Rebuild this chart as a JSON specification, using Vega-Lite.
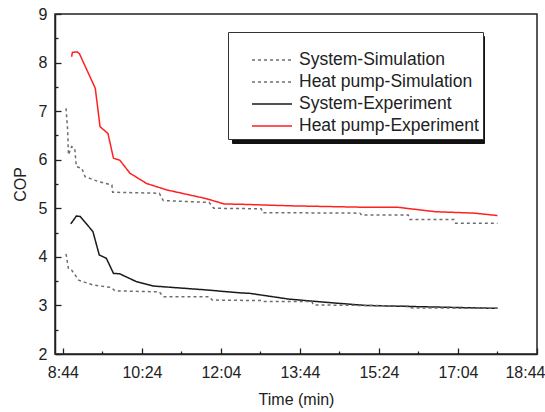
{
  "$schema": "https://vega.github.io/schema/vega-lite/v6.json",
  "width": 482,
  "height": 340,
  "autosize": {"type": "none"},
  "padding": {"left": 55, "top": 14, "right": 8, "bottom": 58},
  "background": "white",
  "config": {
    "view": {"stroke": "#222", "strokeWidth": 1.5},
    "font": "Liberation Sans",
    "axis": {
      "grid": false,
      "domainColor": "#222",
      "domainWidth": 1.5,
      "tickColor": "#222",
      "tickWidth": 1.3,
      "labelFont": "Liberation Sans",
      "labelFontSize": 16,
      "labelColor": "#222",
      "titleFont": "Liberation Sans",
      "titleFontSize": 16,
      "titleFontWeight": "normal",
      "titleColor": "#222"
    }
  },
  "data": {
    "values": [
      {"series": "Heat pump-Experiment", "t": 535, "cop": 8.12},
      {"series": "Heat pump-Experiment", "t": 536, "cop": 8.21},
      {"series": "Heat pump-Experiment", "t": 542, "cop": 8.22},
      {"series": "Heat pump-Experiment", "t": 545, "cop": 8.18},
      {"series": "Heat pump-Experiment", "t": 565, "cop": 7.47},
      {"series": "Heat pump-Experiment", "t": 571, "cop": 6.68},
      {"series": "Heat pump-Experiment", "t": 581, "cop": 6.54},
      {"series": "Heat pump-Experiment", "t": 588, "cop": 6.03},
      {"series": "Heat pump-Experiment", "t": 596, "cop": 5.99},
      {"series": "Heat pump-Experiment", "t": 609, "cop": 5.72},
      {"series": "Heat pump-Experiment", "t": 630, "cop": 5.51},
      {"series": "Heat pump-Experiment", "t": 655, "cop": 5.38},
      {"series": "Heat pump-Experiment", "t": 705, "cop": 5.2},
      {"series": "Heat pump-Experiment", "t": 728, "cop": 5.09},
      {"series": "Heat pump-Experiment", "t": 754, "cop": 5.08},
      {"series": "Heat pump-Experiment", "t": 814, "cop": 5.05},
      {"series": "Heat pump-Experiment", "t": 910, "cop": 5.02},
      {"series": "Heat pump-Experiment", "t": 948, "cop": 5.02},
      {"series": "Heat pump-Experiment", "t": 995, "cop": 4.93},
      {"series": "Heat pump-Experiment", "t": 1045, "cop": 4.9},
      {"series": "Heat pump-Experiment", "t": 1074, "cop": 4.85},

      {"series": "Heat pump-Simulation", "t": 528, "cop": 7.06},
      {"series": "Heat pump-Simulation", "t": 530, "cop": 6.61},
      {"series": "Heat pump-Simulation", "t": 531, "cop": 6.1},
      {"series": "Heat pump-Simulation", "t": 535, "cop": 6.27},
      {"series": "Heat pump-Simulation", "t": 539, "cop": 6.23},
      {"series": "Heat pump-Simulation", "t": 541, "cop": 5.86},
      {"series": "Heat pump-Simulation", "t": 548, "cop": 5.82},
      {"series": "Heat pump-Simulation", "t": 552, "cop": 5.65},
      {"series": "Heat pump-Simulation", "t": 569, "cop": 5.55},
      {"series": "Heat pump-Simulation", "t": 586, "cop": 5.48},
      {"series": "Heat pump-Simulation", "t": 587, "cop": 5.33},
      {"series": "Heat pump-Simulation", "t": 646, "cop": 5.31},
      {"series": "Heat pump-Simulation", "t": 651, "cop": 5.16},
      {"series": "Heat pump-Simulation", "t": 709, "cop": 5.12},
      {"series": "Heat pump-Simulation", "t": 715, "cop": 5.0},
      {"series": "Heat pump-Simulation", "t": 775, "cop": 4.99},
      {"series": "Heat pump-Simulation", "t": 777, "cop": 4.91},
      {"series": "Heat pump-Simulation", "t": 900, "cop": 4.9},
      {"series": "Heat pump-Simulation", "t": 902, "cop": 4.86},
      {"series": "Heat pump-Simulation", "t": 961, "cop": 4.86},
      {"series": "Heat pump-Simulation", "t": 963, "cop": 4.77},
      {"series": "Heat pump-Simulation", "t": 1019, "cop": 4.77},
      {"series": "Heat pump-Simulation", "t": 1021, "cop": 4.69},
      {"series": "Heat pump-Simulation", "t": 1074, "cop": 4.69},

      {"series": "System-Experiment", "t": 534, "cop": 4.68},
      {"series": "System-Experiment", "t": 541, "cop": 4.84},
      {"series": "System-Experiment", "t": 546, "cop": 4.83},
      {"series": "System-Experiment", "t": 562, "cop": 4.52},
      {"series": "System-Experiment", "t": 570, "cop": 4.04},
      {"series": "System-Experiment", "t": 579, "cop": 3.97},
      {"series": "System-Experiment", "t": 588, "cop": 3.66},
      {"series": "System-Experiment", "t": 596, "cop": 3.65},
      {"series": "System-Experiment", "t": 617, "cop": 3.49},
      {"series": "System-Experiment", "t": 638, "cop": 3.4},
      {"series": "System-Experiment", "t": 663, "cop": 3.37},
      {"series": "System-Experiment", "t": 705, "cop": 3.32},
      {"series": "System-Experiment", "t": 747, "cop": 3.26},
      {"series": "System-Experiment", "t": 760, "cop": 3.25},
      {"series": "System-Experiment", "t": 810, "cop": 3.13},
      {"series": "System-Experiment", "t": 860, "cop": 3.06},
      {"series": "System-Experiment", "t": 907, "cop": 3.0},
      {"series": "System-Experiment", "t": 986, "cop": 2.97},
      {"series": "System-Experiment", "t": 1074, "cop": 2.94},

      {"series": "System-Simulation", "t": 528, "cop": 4.06},
      {"series": "System-Simulation", "t": 531, "cop": 3.76},
      {"series": "System-Simulation", "t": 535, "cop": 3.73},
      {"series": "System-Simulation", "t": 544, "cop": 3.52},
      {"series": "System-Simulation", "t": 562, "cop": 3.42},
      {"series": "System-Simulation", "t": 585, "cop": 3.37},
      {"series": "System-Simulation", "t": 590, "cop": 3.3},
      {"series": "System-Simulation", "t": 646, "cop": 3.28},
      {"series": "System-Simulation", "t": 651, "cop": 3.18},
      {"series": "System-Simulation", "t": 709, "cop": 3.18},
      {"series": "System-Simulation", "t": 713, "cop": 3.11},
      {"series": "System-Simulation", "t": 775, "cop": 3.1},
      {"series": "System-Simulation", "t": 777, "cop": 3.08},
      {"series": "System-Simulation", "t": 839, "cop": 3.08},
      {"series": "System-Simulation", "t": 841, "cop": 3.01},
      {"series": "System-Simulation", "t": 961, "cop": 2.99},
      {"series": "System-Simulation", "t": 963, "cop": 2.95},
      {"series": "System-Simulation", "t": 1074, "cop": 2.94}
    ]
  },
  "mark": {"type": "line", "strokeWidth": 1.5},
  "encoding": {
    "x": {
      "field": "t",
      "type": "quantitative",
      "scale": {"domain": [514, 1124], "nice": false, "zero": false},
      "axis": {
        "title": "Time (min)",
        "values": [524, 574, 624, 674, 724, 774, 824, 874, 924, 974, 1024, 1074, 1124],
        "labelExpr": "(datum.value - 524) % 100 == 0 ? floor(datum.value / 60) + ':' + (datum.value % 60 < 10 ? '0' : '') + (datum.value % 60) : ''",
        "tickSize": {"condition": {"test": "(datum.value - 524) % 100 == 0", "value": -6}, "value": -3},
        "labelPadding": 16,
        "labelFlush": true,
        "labelFlushOffset": 8,
        "labelOverlap": false,
        "titlePadding": 8
      }
    },
    "y": {
      "field": "cop",
      "type": "quantitative",
      "scale": {"domain": [2, 9], "nice": false, "zero": false},
      "axis": {
        "title": "COP",
        "values": [2, 2.5, 3, 3.5, 4, 4.5, 5, 5.5, 6, 6.5, 7, 7.5, 8, 8.5, 9],
        "labelExpr": "datum.value % 1 == 0 ? format(datum.value, 'd') : ''",
        "tickSize": {"condition": {"test": "datum.value % 1 == 0", "value": -6}, "value": -3},
        "labelPadding": 14,
        "labelFlush": false,
        "labelOverlap": false,
        "titlePadding": 10
      }
    },
    "color": {
      "field": "series",
      "type": "nominal",
      "scale": {
        "domain": ["Heat pump-Experiment", "System-Simulation", "Heat pump-Simulation", "System-Experiment"],
        "range": ["#ff2020", "#6e6e6e", "#6e6e6e", "#1a1a1a"]
      },
      "legend": {
        "orient": "none",
        "legendX": 177,
        "legendY": 22,
        "title": " ",
        "titleFontSize": 10,
        "titlePadding": 3,
        "symbolType": "M-2,0H2",
        "symbolSize": 400,
        "symbolStrokeWidth": 1.5,
        "symbolOffset": 29,
        "labelExpr": "''",
        "labelFontSize": 17.5,
        "labelOffset": 193,
        "strokeColor": "#111",
        "fillColor": "#111",
        "padding": 4,
        "rowPadding": 2
      }
    },
    "strokeDash": {
      "field": "series",
      "type": "nominal",
      "scale": {
        "domain": ["System-Simulation", "Heat pump-Simulation", "System-Experiment", "Heat pump-Experiment"],
        "range": [[3, 3], [3, 3], [1, 0], [1, 0]]
      },
      "legend": {
        "orient": "none",
        "legendX": 173,
        "legendY": 18,
        "title": " ",
        "titleFontSize": 10,
        "titlePadding": 3,
        "symbolType": "M-2,0H2",
        "symbolSize": 400,
        "symbolStrokeWidth": 1.5,
        "symbolOffset": 29,
        "labelFont": "Liberation Sans",
        "labelFontSize": 17.5,
        "labelLimit": 0,
        "labelColor": "#222",
        "strokeColor": "#333",
        "fillColor": "white",
        "padding": 4,
        "rowPadding": 2,
        "labelOffset": 16,
        "encode": {
          "symbols": {
            "update": {
              "stroke": {"signal": "datum.value === 'Heat pump-Experiment' ? '#ff2020' : datum.value === 'System-Experiment' ? '#1a1a1a' : '#6e6e6e'"}
            }
          }
        }
      }
    }
  }
}
